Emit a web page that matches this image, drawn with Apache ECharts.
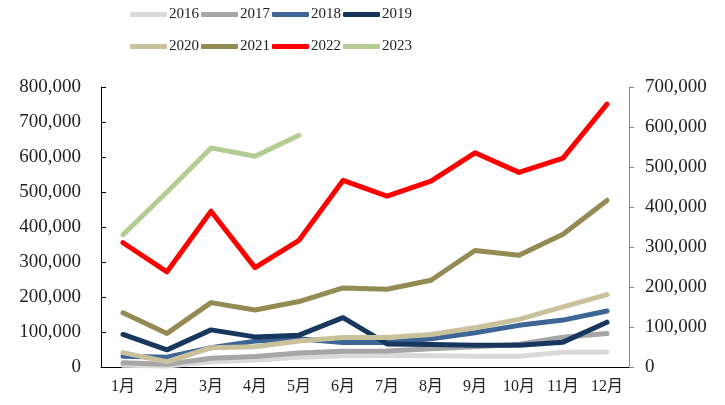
<!DOCTYPE html>
<html>
<head>
<meta charset="utf-8">
<script src="https://cdn.jsdelivr.net/npm/echarts@6/dist/echarts.min.js"></script>
<style>
  html, body { margin: 0; padding: 0; background: #fff; }
  #chart { width: 725px; height: 405px; }
</style>
</head>
<body>
<div id="chart"></div>
<script>
// x categories
const months = ['1月', '2月', '3月', '4月', '5月', '6月', '7月', '8月', '9月', '10月', '11月', '12月'];
const years = ['2016', '2017', '2018', '2019', '2020', '2021', '2022', '2023'];

// values (left axis units)
const y2016 = [5000, 3000, 15000, 20000, 28000, 32000, 33000, 32000, 31000, 31000, 42000, 43000];
const y2017 = [12000, 8000, 25000, 30000, 40000, 45000, 46000, 52000, 58000, 65000, 85000, 96000];
const y2018 = [31000, 28000, 55000, 74000, 81000, 70000, 70000, 81000, 98000, 119000, 134000, 160000];
const y2019 = [93000, 49000, 106000, 86000, 91000, 141000, 66000, 64000, 62000, 62000, 71000, 128000];
const y2020 = [41000, 15000, 55000, 58000, 74000, 84000, 84000, 93000, 112000, 136000, 172000, 207000];
const y2021 = [155000, 96000, 184000, 163000, 187000, 226000, 222000, 248000, 333000, 319000, 379000, 476000];
const y2022 = [355000, 272000, 445000, 284000, 362000, 533000, 488000, 531000, 612000, 556000, 597000, 751000];
const y2023 = [378000, 500000, 626000, 602000, 662000];

const leftTicks = { min: 0, max: 800000, interval: 100000 };
const rightTicks = { min: 0, max: 700000, interval: 100000 };

const seriesData = [y2016, y2017, y2018, y2019, y2020, y2021, y2022, y2023];
const colors = ['#d9d9d9', '#a6a6a6', '#3d6596', '#17375e', '#c9c19b', '#948a54', '#ff0000', '#b3cc93'];

const serif = '"Liberation Serif", "Noto Sans CJK SC", serif';
const fmt = v => v.toLocaleString('en-US');

const chart = echarts.init(document.getElementById('chart'));

const legendBase = {
  left: 130,
  padding: 0,
  itemWidth: 37,
  itemHeight: 5,
  itemGap: 2,
  icon: 'roundRect',
  textStyle: { fontFamily: serif, fontSize: 15, color: '#222', padding: [0, 0, 0, -3] }
};

chart.setOption({
  animation: false,
  color: colors,
  legend: [
    Object.assign({ top: 7, data: years.slice(0, 4) }, legendBase),
    Object.assign({ top: 39, data: years.slice(4) }, legendBase)
  ],
  grid: { left: 101, right: 96, top: 87, bottom: 38 },
  xAxis: {
    type: 'category',
    data: months,
    boundaryGap: true,
    axisLine: { lineStyle: { color: '#000', width: 1 } },
    axisTick: { inside: true, length: 5, lineStyle: { color: '#000' } },
    axisLabel: { fontFamily: serif, fontSize: 16, color: '#222', margin: 12, interval: 0 }
  },
  yAxis: [
    {
      type: 'value',
      min: leftTicks.min, max: leftTicks.max, interval: leftTicks.interval,
      axisLine: { show: true, lineStyle: { color: '#000' } },
      axisTick: { show: true, inside: true, length: 5, lineStyle: { color: '#000' } },
      splitLine: { show: false },
      axisLabel: { fontFamily: serif, fontSize: 19, color: '#222', margin: 20, formatter: fmt }
    },
    {
      type: 'value',
      position: 'right',
      min: rightTicks.min, max: rightTicks.max, interval: rightTicks.interval,
      axisLine: { show: true, lineStyle: { color: '#888' } },
      axisTick: { show: true, inside: false, length: 5, lineStyle: { color: '#888' } },
      splitLine: { show: false },
      axisLabel: { fontFamily: serif, fontSize: 19, color: '#222', margin: 16, formatter: fmt }
    }
  ],
  series: years.map((name, i) => ({
    name,
    type: 'line',
    yAxisIndex: 0,
    data: seriesData[i],
    symbol: 'none',
    lineStyle: { width: 5, color: colors[i], cap: 'round', join: 'round' },
    itemStyle: { color: colors[i] }
  }))
});
</script>
</body>
</html>
